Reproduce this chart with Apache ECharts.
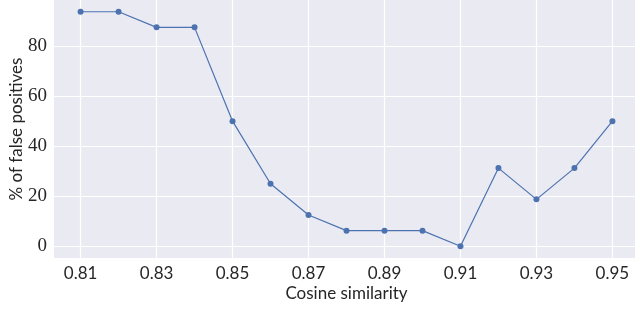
<!DOCTYPE html>
<html>
<head>
    <meta charset="utf-8">
    <script src="https://cdn.jsdelivr.net/npm/echarts/dist/echarts.min.js"></script>
    <style>body{margin:0;background:#fff}</style>
</head>
<body>
    <div id="main" style="width: 635px;height:312px;"></div>
    <script type="text/javascript">
        var similarity = [0.81, 0.82, 0.83, 0.84, 0.85, 0.86, 0.87, 0.88, 0.89, 0.90, 0.91, 0.92, 0.93, 0.94, 0.95];
        var falsePositives = [93.75, 93.75, 87.5, 87.5, 50, 25, 12.5, 6.25, 6.25, 6.25, 0, 31.25, 18.75, 31.25, 50];
        var xTicks = [0.81, 0.83, 0.85, 0.87, 0.89, 0.91, 0.93, 0.95];
        var yTicks = [0, 20, 40, 60, 80];

        var points = similarity.map(function (s, i) { return [s, falsePositives[i]]; });

        var myChart = echarts.init(document.getElementById('main'));
        var option = {
            animation: false,
            backgroundColor: '#ffffff',
            grid: {
                left: 54, right: -4, top: 0, bottom: 54,
                outerBoundsMode: 'none',
                containLabel: false,
                show: true, backgroundColor: '#eaeaf2', borderWidth: 0
            },
            xAxis: {
                type: 'value',
                min: 0.803,
                max: 0.957,
                name: 'Cosine similarity',
                nameLocation: 'middle',
                nameGap: 27,
                nameMoveOverlap: false,
                nameTextStyle: { fontFamily: 'Lato', fontSize: 17, color: '#262626' },
                axisLine: { show: false },
                axisTick: { show: false, customValues: xTicks },
                axisLabel: {
                    customValues: xTicks,
                    margin: 7,
                    fontFamily: 'Lato', fontSize: 17, color: '#262626',
                    formatter: function (v) { return v.toFixed(2); }
                },
                splitLine: { show: true, lineStyle: { color: '#ffffff', width: 1.2 } }
            },
            yAxis: {
                type: 'value',
                min: -4.69,
                max: 98.44,
                name: '% of false positives',
                nameLocation: 'middle',
                nameGap: 29,
                nameMoveOverlap: false,
                nameTextStyle: { fontFamily: 'Lato', fontSize: 17, color: '#262626' },
                axisLine: { show: false },
                axisTick: { show: false, customValues: yTicks },
                axisLabel: {
                    customValues: yTicks,
                    margin: 7,
                    fontFamily: 'Liberation Serif', fontSize: 19, color: '#262626'
                },
                splitLine: { show: true, lineStyle: { color: '#ffffff', width: 1.2 } }
            },
            series: [{
                type: 'line',
                data: points,
                symbol: 'circle',
                symbolSize: 6,
                lineStyle: { color: '#4c72b0', width: 1.2 },
                itemStyle: { color: '#4c72b0' }
            }]
        };
        myChart.setOption(option);
    </script>
</body>
</html>
